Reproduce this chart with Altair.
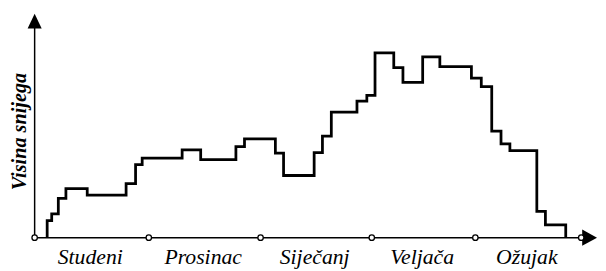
import altair as alt
import pandas as pd

# Step positions (time units from the start of Studeni) and snow heights
step_x = [12.7, 12.7, 17.3, 24.0, 31.7, 53.3, 92.7, 102.3, 109.0, 149.5, 168.3,
          204.0, 212.7, 244.0, 252.3, 283.3, 291.7, 300.7, 326.7, 336.7, 345.0,
          364.0, 373.3, 393.3, 410.7, 442.7, 452.7, 463.3, 472.7, 481.7, 509.0,
          517.7, 538.3]
snow = [0.0, 17.3, 24.0, 39.7, 49.7, 43.0, 54.7, 74.0, 80.7, 89.0, 79.0,
        92.3, 100.0, 85.7, 63.0, 86.3, 103.0, 127.3, 138.3, 144.3, 187.3,
        172.3, 157.3, 183.3, 173.3, 161.7, 153.0, 108.0, 95.0, 88.3, 26.7,
        13.0, 0.0]

# Month boundaries (circles on the time axis) and month names
boundaries = [0.0, 115.7, 229.0, 341.7, 446.7, 554.0]
months = ["Studeni", "Prosinac", "Siječanj", "Veljača", "Ožujak"]
y_title = "Visina snijega"

W, H = 569, 229
FONT = "Liberation Serif"

steps = pd.DataFrame({"t": step_x, "h": snow, "i": range(len(step_x))})
bounds = pd.DataFrame({"t": boundaries, "h": [0.0] * len(boundaries)})
labels = pd.DataFrame({
    "t": [(a + b) / 2 for a, b in zip(boundaries[:-1], boundaries[1:])],
    "h": [-26.7] * len(months),
    "m": months,
})

xs = alt.Scale(domain=[0, W], range=[0, W], nice=False, zero=False)
ys = alt.Scale(domain=[0, H], range=[H, 0], nice=False, zero=False)
X = lambda f: alt.X(f, type="quantitative", scale=xs, axis=None)
Y = lambda f: alt.Y(f, type="quantitative", scale=ys, axis=None)

x_axis = alt.Chart(pd.DataFrame({"t": [0.0], "t2": [556.0], "h": [0.0]})).mark_rule(
    color="black", strokeWidth=1.5
).encode(x=X("t"), x2="t2", y=Y("h"))

y_axis = alt.Chart(pd.DataFrame({"t": [0.0], "h": [0.0], "h2": [213.0]})).mark_rule(
    color="black", strokeWidth=1.5
).encode(x=X("t"), y=Y("h"), y2="h2")

up_arrow = alt.Chart(pd.DataFrame({"t": [0.0], "h": [219.5]})).mark_point(
    shape="M0,-1L-0.95,1L0.95,1Z", filled=True, color="black", size=225, opacity=1
).encode(x=X("t"), y=Y("h"))

right_arrow = alt.Chart(pd.DataFrame({"t": [562.5], "h": [0.0]})).mark_point(
    shape="M1,0L-1,-1.1L-1,1.1Z", filled=True, color="black", size=225, opacity=1
).encode(x=X("t"), y=Y("h"))

line = alt.Chart(steps).mark_line(
    interpolate="step-after", color="black", strokeWidth=2.8, strokeJoin="miter"
).encode(x=X("t"), y=Y("h"), order="i:Q")

circles = alt.Chart(bounds).mark_point(
    shape="circle", filled=True, fill="white", stroke="black", strokeWidth=1.3,
    size=30, opacity=1
).encode(x=X("t"), y=Y("h"))

month_text = alt.Chart(labels).mark_text(
    font=FONT, fontStyle="italic", fontSize=22, align="center",
    baseline="alphabetic", color="black", dx=-1.5
).encode(x=X("t"), y=Y("h"), text="m:N")

ylab = alt.Chart(pd.DataFrame({"s": [y_title]})).mark_text(
    font=FONT, fontStyle="italic", fontWeight="bold", fontSize=20.5, angle=270,
    align="center", baseline="alphabetic", color="black"
).encode(x=alt.value(-9), y=alt.value(121.5), text="s:N")

chart = alt.layer(
    x_axis, y_axis, up_arrow, right_arrow, line, circles, month_text, ylab
).properties(
    width=W, height=H,
    autosize=alt.AutoSizeParams(type="none"),
    padding={"left": 27, "top": 2, "right": 2, "bottom": 30},
).configure_view(stroke=None)

chart.save("out.html", embed_options={"renderer": "svg", "actions": False})
